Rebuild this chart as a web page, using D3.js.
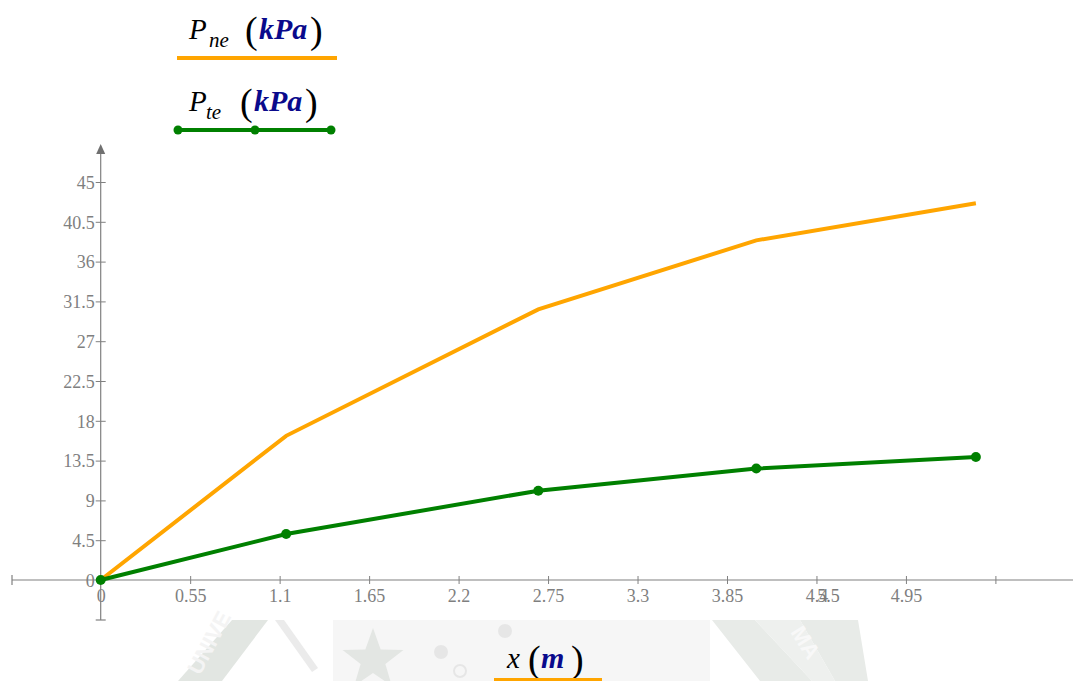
<!DOCTYPE html>
<html>
<head>
<meta charset="utf-8">
<script src="https://cdn.jsdelivr.net/npm/d3@7"></script>
<style>
  html, body { margin: 0; padding: 0; background: #ffffff; }
  svg { display: block; }
  .tick text { font-family: "Liberation Serif", "DejaVu Serif", serif; fill: #7f7f7f; }
</style>
</head>
<body>
<svg id="chart" width="1073" height="681"></svg>
<script>
// Distance along the section (m)
const xValues = [0, 1.14, 2.69, 4.03, 5.38];
// Normal pressure P_ne (kPa)
const pNe = [0, 16.3, 30.6, 38.4, 42.6];
// Tangential pressure P_te (kPa)
const pTe = [0, 5.2, 10.1, 12.6, 13.9];

// Axis tick values
const xTicks = [0, 0.55, 1.1, 1.65, 2.2, 2.75, 3.3, 3.85, 4.4, 4.95, 5.5];
const xTickLabels = ["0", "0.55", "1.1", "1.65", "2.2", "2.75", "3.3", "3.85", "4.4", "4.95", ""];
const yTicks = [0, 4.5, 9, 13.5, 18, 22.5, 27, 31.5, 36, 40.5, 45];

const svg = d3.select("#chart");
const axisColor = "#808080";
const labelColor = "#7a7a7a";
const orange = "#ffa500";
const green = "#008000";
const tickFont = 18;

// ---- faint background emblem along the bottom edge ----
const bg = svg.append("g").attr("class", "emblem");
bg.append("rect").attr("x", 333).attr("y", 620).attr("width", 377).attr("height", 61).attr("fill", "#f6f6f6");
bg.append("path")
  .attr("d", "M178,681 L232,620 L268,620 L222,681 Z")
  .attr("fill", "#e2e6e2");
bg.append("text").attr("x", 200).attr("y", 676).attr("transform", "rotate(-62,200,676)")
  .attr("font-family", "Liberation Sans, sans-serif").attr("font-weight", "bold")
  .attr("font-size", 22).attr("fill", "#f4f4f4").text("UNIVE");
bg.append("path")
  .attr("d", "M275,620 L284,620 L318,668 L312,672 Z")
  .attr("fill", "#ebebeb");
// star
const star = d3.range(10).map(i => {
  const r = i % 2 === 0 ? 32 : 13;
  const a = -Math.PI / 2 + i * Math.PI / 5;
  return [373 + r * Math.cos(a), 660 + r * Math.sin(a)];
});
bg.append("path").attr("d", d3.line()(star) + "Z").attr("fill", "#e3e6e3");
bg.append("circle").attr("cx", 441).attr("cy", 652).attr("r", 7).attr("fill", "#e6e6e6");
bg.append("circle").attr("cx", 460).attr("cy", 671).attr("r", 6).attr("fill", "none").attr("stroke", "#e6e6e6").attr("stroke-width", 2);
bg.append("circle").attr("cx", 505).attr("cy", 631).attr("r", 7).attr("fill", "#e6e6e6");
bg.append("path")
  .attr("d", "M712,620 L755,620 L812,681 L760,681 Z M800,620 L858,620 L868,681 L835,681 Z")
  .attr("fill", "#e8ebe8");
bg.append("path")
  .attr("d", "M755,620 L800,620 L835,681 L812,681 Z")
  .attr("fill", "#eef0ee");
bg.append("text").attr("x", 790).attr("y", 632).attr("transform", "rotate(58,790,632)")
  .attr("font-family", "Liberation Sans, sans-serif").attr("font-weight", "bold")
  .attr("font-size", 22).attr("fill", "#f8f8f8").text("MA");

// ---- scales ----
const x = d3.scaleLinear().domain([0, 5.5]).range([100.7, 995.4]);
const y = d3.scaleLinear().domain([0, 45]).range([580, 182]);

// ---- x axis ----
const xAxisG = svg.append("g").attr("transform", `translate(0,${y(0)})`)
  .call(d3.axisBottom(x).tickValues(xTicks).tickSize(4).tickPadding(5)
    .tickFormat((d, i) => xTickLabels[i]));
xAxisG.select(".domain").remove();
xAxisG.selectAll(".tick line").attr("y1", -4).attr("y2", 4).attr("stroke", axisColor);
xAxisG.selectAll(".tick text").attr("font-size", tickFont).attr("fill", labelColor);
xAxisG.selectAll(".tick").filter(d => d === 0).select("line").remove();
// end label that lands on top of the 4.4 label
xAxisG.append("text").attr("x", x(4.4) + 12).attr("y", 9).attr("dy", "0.71em")
  .attr("font-family", "Liberation Serif, serif").attr("font-size", tickFont)
  .attr("fill", labelColor).attr("text-anchor", "middle").text("5.5");
xAxisG.append("line").attr("x1", 12).attr("x2", 1073).attr("y1", 0).attr("y2", 0)
  .attr("stroke", axisColor).attr("stroke-width", 1.2);
xAxisG.append("line").attr("x1", 12).attr("x2", 12).attr("y1", -5).attr("y2", 5)
  .attr("stroke", axisColor).attr("stroke-width", 1.2);

// ---- y axis ----
const yAxisG = svg.append("g").attr("transform", `translate(${x(0)},0)`)
  .call(d3.axisLeft(y).tickValues(yTicks).tickSize(5).tickPadding(1)
    .tickFormat(d3.format("")));
yAxisG.select(".domain").remove();
yAxisG.selectAll(".tick line").attr("x1", -5).attr("x2", 5).attr("stroke", axisColor);
yAxisG.selectAll(".tick text").attr("font-size", tickFont).attr("fill", labelColor).attr("dy", "0.35em");
yAxisG.selectAll(".tick").filter(d => d === 0).select("line").remove();
yAxisG.append("line").attr("x1", 0).attr("x2", 0).attr("y1", 150).attr("y2", 620)
  .attr("stroke", axisColor).attr("stroke-width", 1.2);
yAxisG.append("line").attr("x1", -5).attr("x2", 5).attr("y1", 620).attr("y2", 620)
  .attr("stroke", axisColor).attr("stroke-width", 1.2);
yAxisG.append("path").attr("d", "M0,144 L-4.5,154 L4.5,154 Z").attr("fill", "#707070");

// ---- series ----
const line = d3.line().x(d => x(d[0])).y(d => y(d[1]));
const neData = xValues.map((v, i) => [v, pNe[i]]);
const teData = xValues.map((v, i) => [v, pTe[i]]);

svg.append("path").datum(neData).attr("d", line)
  .attr("fill", "none").attr("stroke", orange).attr("stroke-width", 4)
  .attr("stroke-linejoin", "miter");
svg.append("path").datum(teData).attr("d", line)
  .attr("fill", "none").attr("stroke", green).attr("stroke-width", 4);
svg.selectAll("circle.te").data(teData).enter().append("circle")
  .attr("class", "te")
  .attr("cx", d => x(d[0])).attr("cy", d => y(d[1])).attr("r", 5)
  .attr("fill", green);

// ---- legend ----
function mathLabel(g, baseX, baseY, sub, subX, parX, unitX, closeX) {
  const t = g.append("text").attr("font-family", "Liberation Serif, Times New Roman, serif");
  t.append("tspan").attr("x", baseX).attr("y", baseY).attr("font-size", 29)
    .attr("font-style", "italic").attr("fill", "#000").text("P");
  t.append("tspan").attr("x", subX).attr("y", baseY + 8).attr("font-size", 21)
    .attr("font-style", "italic").attr("fill", "#000").text(sub);
  t.append("tspan").attr("x", parX).attr("y", baseY + 4).attr("font-size", 38)
    .attr("fill", "#000").text("(");
  t.append("tspan").attr("x", unitX).attr("y", baseY).attr("font-size", 30)
    .attr("font-style", "italic").attr("font-weight", "bold").attr("fill", "#0a0a8c").text("kPa");
  t.append("tspan").attr("x", closeX).attr("y", baseY + 4).attr("font-size", 38)
    .attr("fill", "#000").text(")");
}
const legend = svg.append("g");
mathLabel(legend, 189, 39, "ne", 209, 245, 259, 310);
legend.append("line").attr("x1", 177).attr("x2", 337).attr("y1", 58).attr("y2", 58)
  .attr("stroke", orange).attr("stroke-width", 4);
mathLabel(legend, 189, 111, "te", 206, 240, 254, 305);
legend.append("line").attr("x1", 178).attr("x2", 331).attr("y1", 130).attr("y2", 130)
  .attr("stroke", green).attr("stroke-width", 4);
legend.selectAll("circle.lg").data([178, 255, 331]).enter().append("circle")
  .attr("class", "lg").attr("cx", d => d).attr("cy", 130).attr("r", 4.5).attr("fill", green);

// ---- x axis title ----
const xt = svg.append("text").attr("font-family", "Liberation Serif, Times New Roman, serif");
xt.append("tspan").attr("x", 507).attr("y", 668).attr("font-size", 29)
  .attr("font-style", "italic").attr("fill", "#000").text("x");
xt.append("tspan").attr("x", 528).attr("y", 672).attr("font-size", 38).attr("fill", "#000").text("(");
xt.append("tspan").attr("x", 541).attr("y", 668).attr("font-size", 30)
  .attr("font-style", "italic").attr("font-weight", "bold").attr("fill", "#0a0a8c").text("m");
xt.append("tspan").attr("x", 571).attr("y", 672).attr("font-size", 38).attr("fill", "#000").text(")");
svg.append("line").attr("x1", 494).attr("x2", 602).attr("y1", 680).attr("y2", 680)
  .attr("stroke", orange).attr("stroke-width", 4);
</script>
</body>
</html>
